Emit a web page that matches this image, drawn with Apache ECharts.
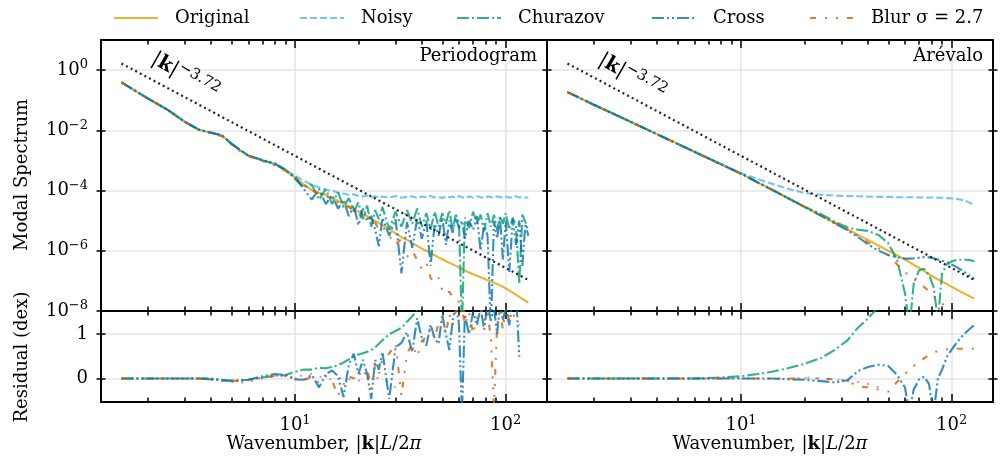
<!DOCTYPE html>
<html lang="en">
<head>
<meta charset="utf-8">
<style>
  html, body { margin: 0; background: #fff; }
  #container { width: 1003px; height: 465px; }
</style>
</head>
<body>
<div id="container"></div>
<script src="https://fastly.jsdelivr.net/npm/echarts@6/dist/echarts.min.js"></script>
<script>
var FONT = 'DejaVu Serif';

// wavenumbers |k|L/2pi
var kFine = [1.5, 2, 2.5, 3, 3.5, 4, 4.5, 5, 5.5, 6, 7, 8, 9, 10,
  11, 12, 13, 14, 15, 16, 17, 18, 19, 20, 21, 22, 23, 24, 25, 26,
  28, 30, 32, 34, 36, 38, 40, 42, 44, 46, 48, 50, 52, 54, 56, 58, 60, 62, 64,
  67, 70, 73, 76, 79, 82, 85, 88, 91, 94, 97, 100,
  104, 108, 112, 116, 120, 124, 128];
var kCoarse = [1.5, 2, 3, 4, 5, 6, 8, 10, 12, 14, 17, 20, 24, 28, 32, 36, 40, 45, 50, 55,
  60, 63, 66, 70, 74, 78, 82, 86, 90, 95, 100, 106, 112, 118, 124, 128];

// periodogram panel, log10 of modal spectrum (on kFine)
var perOriginal = [-0.41, -0.94, -1.33, -1.72, -1.98, -2.08, -2.17, -2.45, -2.66, -2.84, -3.0, -3.12, -3.33, -3.56,
  -3.8, -3.98, -4.08, -4.15, -4.26, -4.34, -4.45, -4.52, -4.63, -4.7, -4.8, -4.85, -4.95, -5.0, -5.08, -5.15,
  -5.28, -5.42, -5.55, -5.64, -5.74, -5.84, -5.93, -6.0, -6.08, -6.15, -6.22, -6.28, -6.34, -6.4, -6.45, -6.5, -6.56, -6.6, -6.66,
  -6.72, -6.78, -6.83, -6.88, -6.93, -6.98, -7.02, -7.06, -7.1, -7.15, -7.2, -7.25,
  -7.32, -7.39, -7.46, -7.53, -7.6, -7.66, -7.72];
var perNoisy = [-0.41, -0.94, -1.33, -1.72, -1.98, -2.08, -2.17, -2.45, -2.66, -2.84, -3.0, -3.12, -3.33, -3.5,
  -3.68, -3.8, -3.9, -3.98, -4.0, -4.08, -4.1, -4.15, -4.12, -4.18, -4.2, -4.16, -4.22, -4.19, -4.24, -4.2,
  -4.23, -4.18, -4.24, -4.21, -4.19, -4.25, -4.2, -4.22, -4.18, -4.23, -4.21, -4.25, -4.19, -4.22, -4.2, -4.24, -4.18, -4.22, -4.25,
  -4.2, -4.23, -4.19, -4.22, -4.24, -4.2, -4.21, -4.25, -4.19, -4.22, -4.23, -4.2,
  -4.24, -4.21, -4.19, -4.23, -4.21, -4.24, -4.22];
var perChurazov = [-0.41, -0.94, -1.33, -1.72, -1.98, -2.08, -2.17, -2.45, -2.66, -2.84, -3.0, -3.1, -3.3, -3.62,
  -3.9, -3.8, -4.3, -3.95, -4.45, -4.05, -4.55, -4.25, -4.7, -4.4, -4.95, -4.5, -5.2, -4.65, -4.95, -4.55,
  -5.3, -4.7, -5.2, -4.65, -5.1, -4.6, -5.2, -4.75, -5.3, -4.7, -5.2, -4.75, -5.1, -4.65, -5.3, -4.8, -5.05, -8.6, -4.9,
  -5.25, -4.7, -5.1, -4.8, -5.35, -4.75, -5.2, -4.8, -5.3, -4.85, -5.1, -4.75,
  -5.3, -4.9, -5.2, -7.1, -4.8, -5.05, -5.35];
var perCross = [-0.41, -0.94, -1.33, -1.72, -1.98, -2.08, -2.17, -2.45, -2.66, -2.84, -2.98, -3.1, -3.32, -3.55,
  -3.95, -4.3, -3.95, -4.45, -4.15, -4.6, -4.3, -4.85, -4.5, -5.15, -4.6, -5.0, -4.85, -5.3, -5.85, -4.9,
  -5.5, -4.95, -6.75, -5.05, -5.9, -4.95, -5.6, -5.0, -6.5, -5.1, -5.5, -4.9, -5.8, -5.0, -5.4, -4.9, -5.25, -5.0, -5.6,
  -5.0, -5.3, -4.85, -6.0, -5.1, -5.5, -8.6, -5.0, -5.6, -4.9, -6.3, -5.0,
  -6.7, -4.95, -5.8, -5.0, -6.5, -5.1, -5.5];
var perBlur = [-0.41, -0.94, -1.33, -1.72, -1.98, -2.1, -2.2, -2.48, -2.7, -2.86, -3.02, -3.16, -3.34, -3.58,
  -3.82, -4.0, -4.1, -4.18, -4.28, -4.4, -4.48, -4.55, -4.66, -4.75, -4.95, -4.9, -5.1, -5.05, -5.3, -5.2,
  -5.5, -5.8, -5.6, -6.2, -6.0, -6.3, -6.6, -6.4, -6.9, -7.05, -6.9, -7.3, -7.45, -7.35, -7.55, -7.6, -7.7, -7.8, -8.1,
  -8.4, -8.3, -8.6, -8.6, -8.6, -8.6, -8.6, -8.6, -8.6, -8.6, -8.6, -8.6,
  -8.6, -8.6, -8.6, -8.6, -8.6, -8.6, -8.6];

// Arevalo panel, log10 of modal spectrum (on kCoarse)
var arvOriginal = [-0.73, -1.15, -1.72, -2.13, -2.45, -2.71, -3.12, -3.44, -3.73, -3.97, -4.28, -4.54, -4.83, -5.08, -5.28, -5.47, -5.64, -5.83, -6.0, -6.15,
  -6.29, -6.38, -6.47, -6.57, -6.67, -6.78, -6.87, -6.95, -7.02, -7.11, -7.2, -7.29, -7.38, -7.46, -7.54, -7.59];
var arvNoisy = [-0.73, -1.15, -1.72, -2.13, -2.45, -2.71, -3.12, -3.42, -3.62, -3.77, -3.96, -4.08, -4.14, -4.17, -4.18, -4.19, -4.2, -4.21, -4.21, -4.22,
  -4.22, -4.22, -4.22, -4.23, -4.23, -4.23, -4.23, -4.24, -4.24, -4.25, -4.26, -4.28, -4.31, -4.36, -4.43, -4.5];
var arvChurazov = [-0.73, -1.15, -1.72, -2.13, -2.45, -2.71, -3.12, -3.44, -3.73, -3.97, -4.28, -4.54, -4.78, -5.05, -5.22, -5.3, -5.34, -5.48, -5.75, -6.3,
  -7.4, -8.6, -7.1, -6.65, -6.6, -6.8, -7.2, -8.3, -6.75, -6.45, -6.35, -6.3, -6.3, -6.3, -6.32, -6.35];
var arvCross = [-0.73, -1.15, -1.72, -2.13, -2.45, -2.71, -3.12, -3.44, -3.73, -3.97, -4.28, -4.54, -4.84, -5.1, -5.32, -5.55, -5.78, -6.0, -6.14, -6.22,
  -6.26, -6.26, -6.25, -6.23, -6.21, -6.22, -6.25, -6.29, -6.33, -6.38, -6.45, -6.55, -6.65, -6.76, -6.86, -6.93];
var arvBlur = [-0.73, -1.15, -1.72, -2.13, -2.45, -2.71, -3.12, -3.44, -3.73, -3.97, -4.28, -4.54, -4.83, -5.08, -5.3, -5.52, -5.72, -5.92, -6.15, -6.45,
  -6.7, -6.85, -6.95, -7.05, -7.2, -7.35, -7.5, -7.65, -7.75, -7.9, -8.1, -8.3, -8.5, -8.6, -8.7, -8.8];

// residuals (dex), periodogram panel on kFine
var resPerChurazov = [0, 0, 0, 0, 0, -0.02, -0.05, -0.05, -0.04, -0.03, 0.02, 0.06, 0.08, 0.15,
  0.2, 0.2, 0.24, 0.23, 0.26, 0.3, 0.36, 0.43, 0.49, 0.54, 0.57, 0.6, 0.64, 0.7, 0.78, 0.86,
  1.0, 1.07, 1.14, 1.28, 1.4, 1.55, 1.7, 1.85, null, null, null, null, null, null, null, null, null, null, null,
  null, null, null, null, null, null, null, null, null, null, null, null,
  null, null, null, null, null, null, null];
var resPerCross = [0, 0, 0, 0, 0, 0, -0.03, -0.05, -0.05, -0.03, 0.05, 0.1, 0.08, -0.02,
  -0.03, 0.08, -0.2, 0.1, 0.18, 0.05, -0.42, 0.31, 0.56, 0.1, 0.42, 0.1, -0.46, 0.42, 0.2, 0.6,
  -0.46, 0.7, 0.8, 1.04, 0.6, 1.36, 0.9, 0.74, 1.22, 0.9, 0.78, 1.44, 1.0, 0.64, 1.3, 1.7, 1.2, -0.8, 1.44,
  1.0, 1.5, 1.2, 1.6, 1.1, 1.7, 1.3, 1.6, 1.0, 1.7, 1.3, 1.6,
  1.2, 1.8, 1.9, 0.49, null, null, null];
var resPerBlur = [0, 0, 0, 0, 0, -0.02, -0.05, -0.06, -0.05, -0.04, 0.02, 0.06, 0.05, 0.0,
  -0.05, 0.05, -0.1, 0.05, -0.05, -0.39, -0.13, 0.05, 0.0, 0.16, 0.0, 0.23, -0.24, 0.31, 0.1, 0.45,
  0.56, 0.78, -0.39, 0.56, 0.78, 0.49, 0.85, 0.93, 1.15, 0.9, 1.25, 1.35, 1.0, 1.45, 1.2, 1.55, 1.3, 1.6, 1.2,
  1.5, 1.0, 1.4, 1.6, 1.3, 1.5, 0.9, -0.6, 1.2, 1.5, 1.1, 1.6,
  1.3, 1.45, 1.35, 1.2, null, null, null];
var resPerPink = [0, 0, 0, 0, 0, -0.02, -0.05, -0.08, -0.1, -0.08, 0.0, 0.05, 0.05, 0.02,
  0.08, 0.1, 0.05, 0.0, -0.02, 0.0, 0.03, -0.02, 0.0, -0.05, 0.0, 0.02, -0.03, 0.0, 0.02, 0.0,
  -0.1, -0.2, -0.35, null, null, null, null, null, null, null, null, null, null, null, null, null, null, null, null,
  null, null, null, null, null, null, null, null, null, null, null, null,
  null, null, null, null, null, null, null];

// residuals (dex), Arevalo panel on kCoarse
var resArvChurazov = [0, 0, 0, 0, 0, 0, 0.02, 0.05, 0.1, 0.15, 0.24, 0.33, 0.46, 0.65, 0.86, 1.15, 1.35, 1.62, 1.9, null,
  null, null, null, null, null, null, null, null, null, null, null, null, null, null, null, null];
var resArvCross = [0, 0, 0, 0, 0, 0, 0, 0, 0, 0, -0.02, -0.03, -0.06, -0.09, -0.04, 0.17, 0.26, 0.31, 0.28, 0.08,
  -0.2, -0.8, -0.25, -0.02, 0.04, -0.12, -0.8, 0.0, 0.2, 0.5, 0.65, 0.82, 0.95, 1.06, 1.15, 1.2];
var resArvBlur = [0, 0, 0, 0, 0, 0, 0, 0, 0, 0, 0, 0, 0, -0.02, -0.05, -0.18, -0.2, -0.25, -0.3, -0.08,
  0.1, 0.2, 0.28, 0.37, 0.46, 0.53, 0.58, 0.62, 0.65, 0.66, 0.67, 0.67, 0.67, 0.67, 0.67, 0.67];
var resArvPink = [0, 0, 0, 0, 0, 0, 0, 0.01, 0, -0.01, 0, 0.02, 0, -0.02, -0.06, -0.08, -0.12, -0.2, null, null,
  null, null, null, null, null, null, null, null, null, null, null, null, null, null, null, null];

// |k|^-3.72 guide line: end points (k, log10 P)
var guideK = [1.5, 128];
var guideLogP = [0.22, -6.97];

// tick values
var xMajor = [1, 2];
var xMinor = [2, 3, 4, 5, 6, 7, 8, 9, 20, 30, 40, 50, 60, 70, 80, 90].map(Math.log10);
var specTicks = [-8, -6, -4, -2, 0];
var resTicks = [0, 1];

var xMin = 0.079, xMax = 2.196;

function supLabel(v) {
  var e = Math.round(v);
  return '{b|10}{s|' + (e < 0 ? '\u2212' + (-e) : e) + '}';
}
var rich = {
  b: { fontFamily: FONT, fontSize: 18, color: '#000' },
  s: { fontFamily: FONT, fontSize: 13, color: '#000', padding: [0, 0, 10, 0] }
};

var grids = [
  { left: 101, top: 40, width: 446, height: 271 },
  { left: 547, top: 40, width: 446, height: 271 },
  { left: 101, top: 311, width: 446, height: 91 },
  { left: 547, top: 311, width: 446, height: 91 }
];

var xAxes = [], yAxes = [];
function addAxes(g, yMin, yMax, yTicks, showX, showY, yFmt) {
  var frame = { show: true, onZero: false, lineStyle: { color: '#000', width: 2 } };
  var noLine = { show: false, onZero: false };
  var tick = { color: '#000', width: 1.5 };
  var grid = { show: true, lineStyle: { color: '#e6e6e6', width: 1.5 } };
  var xi = xAxes.length, yi = yAxes.length;
  function xa(pos, line, vals, len, label, split) {
    xAxes.push({
      gridIndex: g, type: 'value', min: xMin, max: xMax, position: pos,
      axisLine: line,
      axisTick: { show: true, inside: true, length: len, customValues: vals, lineStyle: tick },
      axisLabel: label ? { show: true, customValues: xMajor, formatter: supLabel, rich: rich, margin: 12 } : { show: false },
      splitLine: split ? grid : { show: false }
    });
  }
  xa('bottom', frame, xMajor, 8, showX, true);
  xa('bottom', noLine, xMinor, 4.5, false, false);
  xa('top', frame, xMajor, 8, false, false);
  xa('top', noLine, xMinor, 4.5, false, false);
  function ya(pos, line, inside, label, split) {
    yAxes.push({
      gridIndex: g, type: 'value', min: yMin, max: yMax, position: pos,
      axisLine: line,
      axisTick: { show: true, inside: inside, length: 4.5, customValues: yTicks, lineStyle: tick },
      axisLabel: label ? { show: true, customValues: yTicks, formatter: yFmt, rich: rich, margin: 13,
        fontFamily: FONT, fontSize: 18, color: '#000' } : { show: false },
      splitLine: split ? grid : { show: false }
    });
  }
  ya('left', frame, true, showY, true);
  ya('left', noLine, false, false, false);
  ya('right', frame, true, false, false);
  ya('right', noLine, false, false, false);
  return { x: xi, y: yi };
}

var axPer = addAxes(0, -8, 1, specTicks, false, true, supLabel);
var axArv = addAxes(1, -8, 1, specTicks, false, false, supLabel);
var axResPer = addAxes(2, -0.53, 1.52, resTicks, true, true, function (v) { return String(v); });
var axResArv = addAxes(3, -0.53, 1.52, resTicks, true, false, function (v) { return String(v); });

var styles = {
  'Original': { color: 'rgba(230,159,0,0.8)', width: 2.1, type: 'solid' },
  'Noisy': { color: 'rgba(86,180,233,0.8)', width: 2.1, type: [7, 3] },
  'Churazov': { color: 'rgba(0,158,115,0.8)', width: 2.1, type: [12, 3, 2, 3] },
  'Cross': { color: 'rgba(0,114,178,0.8)', width: 2.1, type: [12, 3, 2, 3, 2, 3] },
  'Blur \u03c3 = 2.7': { color: 'rgba(213,94,0,0.8)', width: 2.1, type: [6, 9, 2, 9, 2, 9] },
  'pink': { color: 'rgba(204,121,167,0.8)', width: 2.1, type: [2, 8] },
  'guide': { color: '#222', width: 2.2, type: [2, 3.2] }
};

function line(name, ks, vals, ax) {
  var st = styles[name];
  return {
    name: name, type: 'line', xAxisIndex: ax.x, yAxisIndex: ax.y,
    symbol: 'none', showSymbol: false, clip: true, animation: false,
    data: ks.map(function (k, i) { return [Math.log10(k), vals[i] == null ? '-' : vals[i]]; }),
    lineStyle: { color: st.color, width: st.width, type: st.type },
    itemStyle: { color: st.color }
  };
}

var BLUR = 'Blur \u03c3 = 2.7';
var series = [
  line('Original', kFine, perOriginal, axPer),
  line('Noisy', kFine, perNoisy, axPer),
  line('Churazov', kFine, perChurazov, axPer),
  line('Cross', kFine, perCross, axPer),
  line(BLUR, kFine, perBlur, axPer),
  line('guide', guideK, guideLogP, axPer),
  line('Original', kCoarse, arvOriginal, axArv),
  line('Noisy', kCoarse, arvNoisy, axArv),
  line('Churazov', kCoarse, arvChurazov, axArv),
  line('Cross', kCoarse, arvCross, axArv),
  line(BLUR, kCoarse, arvBlur, axArv),
  line('guide', guideK, guideLogP, axArv),
  line('pink', kFine, resPerPink, axResPer),
  line('Churazov', kFine, resPerChurazov, axResPer),
  line('Cross', kFine, resPerCross, axResPer),
  line(BLUR, kFine, resPerBlur, axResPer),
  line('pink', kCoarse, resArvPink, axResArv),
  line('Churazov', kCoarse, resArvChurazov, axResArv),
  line('Cross', kCoarse, resArvCross, axResArv),
  line(BLUR, kCoarse, resArvBlur, axResArv)
];

var legendNames = ['Original', 'Noisy', 'Churazov', 'Cross', BLUR];
var legendLeft = [108, 294, 451, 646, 804];
var legends = legendNames.map(function (n, i) {
  return {
    data: [n], left: legendLeft[i], top: 4, itemWidth: 44, itemHeight: 20,
    selectedMode: false,
    itemStyle: { opacity: 0 },
    textStyle: { fontFamily: FONT, fontSize: 18, color: '#000', padding: [0, 0, 0, 12] }
  };
});

var textRich = {
  bk: { fontFamily: FONT, fontSize: 20, fontWeight: 'bold', fill: '#000' },
  xb: { fontFamily: FONT, fontSize: 18, fontWeight: 'bold', fill: '#000' },
  it: { fontFamily: FONT, fontSize: 18, fontStyle: 'italic', fill: '#000' },
  s: { fontFamily: FONT, fontSize: 15, fill: '#000', padding: [0, 0, 12, 0] }
};
function label(txt, x, y, opts) {
  opts = opts || {};
  return {
    type: 'text', x: x, y: y, rotation: opts.rotation || 0, z: 100,
    style: {
      text: txt, fontFamily: FONT, fontSize: opts.size || 18, fill: '#000',
      align: opts.align || 'center', verticalAlign: 'middle', rich: textRich
    }
  };
}
var guideText = '|{bk|k}|{s|\u22123.72}';
var xTitle = 'Wavenumber, |{xb|k}|{it|L}/2{it|\u03c0}';

var option = {
  animation: false,
  backgroundColor: '#fff',
  textStyle: { fontFamily: FONT },
  grid: grids,
  xAxis: xAxes,
  yAxis: yAxes,
  legend: legends,
  series: series,
  graphic: [
    label('Modal Spectrum', 22, 175, { rotation: Math.PI / 2 }),
    label('Residual (dex)', 22, 357, { rotation: Math.PI / 2 }),
    label('Periodogram', 537, 56, { align: 'right' }),
    label('Ar\u00e9valo', 983, 56, { align: 'right' }),
    label(guideText, 185, 76, { rotation: -0.52, size: 20 }),
    label(guideText, 632, 77, { rotation: -0.52, size: 20 }),
    label(xTitle, 324, 444),
    label(xTitle, 770, 444)
  ]
};

var chart = echarts.init(document.getElementById('container'), null, { renderer: 'canvas' });
chart.setOption(option);
window.addEventListener('resize', chart.resize);
</script>
</body>
</html>
